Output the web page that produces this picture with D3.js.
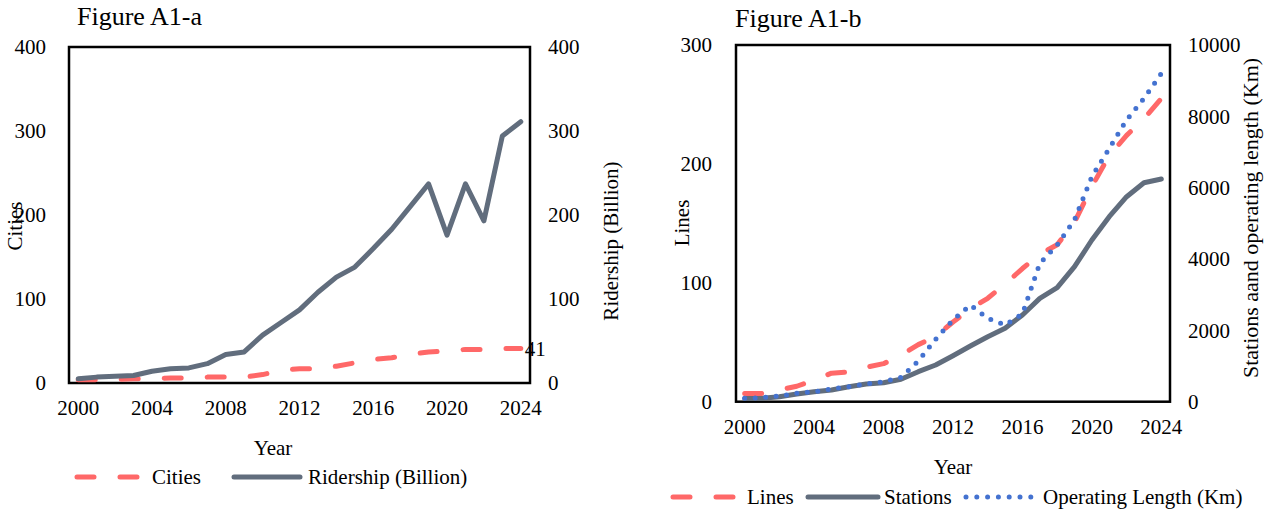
<!DOCTYPE html>
<html>
<head>
<meta charset="utf-8">
<script src="https://cdn.jsdelivr.net/npm/d3@7"></script>
<style>
  body { margin: 0; background: #fff; }
  text { font-family: "Liberation Serif", "Times New Roman", serif; fill: #000; }
</style>
</head>
<body>
<script>
// data
var years = d3.range(2000, 2025);
var yearTicks = [2000, 2004, 2008, 2012, 2016, 2020, 2024];

// Figure A1-a
var cities = [4, 4, 4, 5, 5, 6, 6, 7, 7, 7, 10, 15, 17, 17, 20, 24, 28, 30, 34, 37, 38, 40, 40, 41, 41];
var ridership = [5, 7, 8, 9, 14, 17, 18, 23, 34, 37, 57, 72, 87, 108, 126, 138, 160, 183, 210, 237, 176, 237, 193, 294, 311];
var ticksA = [0, 100, 200, 300, 400];

// Figure A1-b
var lines = [7, 7, 10, 13, 18, 24, 25, 29, 32, 39, 48, 55, 67, 78, 87, 99, 112, 124, 132, 151, 181, 207, 224, 238, 255];
var stations = [90, 95, 140, 216, 280, 328, 420, 496, 533, 628, 841, 1029, 1290, 1561, 1822, 2058, 2431, 2898, 3196, 3785, 4533, 5186, 5747, 6140, 6243];
var opLength = [95, 112, 160, 235, 280, 356, 420, 496, 561, 684, 1140, 1750, 2290, 2710, 2340, 2150, 2460, 3880, 4390, 5100, 6310, 7100, 7900, 8500, 9200];
var ticksBLeft = [0, 100, 200, 300];
var ticksBRight = [0, 2000, 4000, 6000, 8000, 10000];

var red = '#ff6868', gray = '#616d7d', blue = '#4472d0';
var fs = '21px';

var svg = d3.select('body').append('svg')
    .attr('width', 1270)
    .attr('height', 512);

function axisText(g) {
  g.select('.domain').remove();
  g.selectAll('text').style('font-size', fs).style('font-family', '"Liberation Serif", "Times New Roman", serif');
}

function drawLine(x, y, vals, color, dash) {
  var line = d3.line()
      .x(function(d, i) { return x(years[i]) + x.bandwidth() / 2; })
      .y(function(d) { return y(d); });
  svg.append('path')
      .datum(vals)
      .attr('d', line)
      .attr('fill', 'none')
      .attr('stroke', color)
      .attr('stroke-width', 5)
      .attr('stroke-linecap', 'round')
      .attr('stroke-linejoin', 'round')
      .attr('stroke-dasharray', dash);
}

function legendItem(x0, x1, yy, color, dash, label, tx) {
  svg.append('line')
      .attr('x1', x0).attr('x2', x1).attr('y1', yy).attr('y2', yy)
      .attr('stroke', color).attr('stroke-width', 5)
      .attr('stroke-linecap', 'round')
      .attr('stroke-dasharray', dash);
  svg.append('text').attr('x', tx).attr('y', yy + 7).style('font-size', fs).text(label);
}

// ---------- Figure A1-a ----------
var L = 69, R = 530, T = 47, B = 383;
var xa = d3.scaleBand().domain(years).range([L, R]);
var ya = d3.scaleLinear().domain([0, 400]).range([B, T]);
var ya2 = d3.scaleLinear().domain([0, 400]).range([B, T]);

svg.append('g').attr('transform', 'translate(0,' + B + ')')
    .call(d3.axisBottom(xa).tickValues(yearTicks).tickSize(0).tickPadding(17)).call(axisText);
svg.append('g').attr('transform', 'translate(' + L + ',0)')
    .call(d3.axisLeft(ya).tickValues(ticksA).tickSize(0).tickPadding(23)).call(axisText);
svg.append('g').attr('transform', 'translate(' + R + ',0)')
    .call(d3.axisRight(ya2).tickValues(ticksA).tickSize(0).tickPadding(18)).call(axisText);

svg.append('rect').attr('x', L).attr('y', T).attr('width', R - L).attr('height', B - T)
    .attr('fill', 'none').attr('stroke', '#000').attr('stroke-width', 2.5);

drawLine(xa, ya2, cities, red, '17,26');
drawLine(xa, ya, ridership, gray, null);

svg.append('text')
    .attr('x', xa(2024) + xa.bandwidth() / 2 + 4)
    .attr('y', ya2(cities[cities.length - 1]) + 7)
    .style('font-size', fs).text(cities[cities.length - 1]);

svg.append('text').attr('x', 77).attr('y', 25).style('font-size', '26px').text('Figure A1-a');
svg.append('text').attr('transform', 'translate(22,226) rotate(-90)')
    .attr('text-anchor', 'middle').style('font-size', fs).text('Cities');
svg.append('text').attr('transform', 'translate(618,241) rotate(-90)')
    .attr('text-anchor', 'middle').style('font-size', fs).text('Ridership (Billion)');
svg.append('text').attr('x', 273).attr('y', 455).attr('text-anchor', 'middle')
    .style('font-size', fs).text('Year');

legendItem(77, 138, 477, red, '17,26', 'Cities', 152);
legendItem(234, 300, 477, gray, null, 'Ridership (Billion)', 308);

// ---------- Figure A1-b ----------
var L2 = 736, R2 = 1170, T2 = 45, B2 = 401.7;
var xb = d3.scaleBand().domain(years).range([L2, R2]);
var yb = d3.scaleLinear().domain([0, 300]).range([B2, T2]);
var yb2 = d3.scaleLinear().domain([0, 10000]).range([B2, T2]);

svg.append('g').attr('transform', 'translate(0,' + B2 + ')')
    .call(d3.axisBottom(xb).tickValues(yearTicks).tickSize(0).tickPadding(17)).call(axisText);
svg.append('g').attr('transform', 'translate(' + L2 + ',0)')
    .call(d3.axisLeft(yb).tickValues(ticksBLeft).tickSize(0).tickPadding(24)).call(axisText);
svg.append('g').attr('transform', 'translate(' + R2 + ',0)')
    .call(d3.axisRight(yb2).tickValues(ticksBRight).tickFormat(d3.format('d')).tickSize(0).tickPadding(18)).call(axisText);

svg.append('rect').attr('x', L2).attr('y', T2).attr('width', R2 - L2).attr('height', B2 - T2)
    .attr('fill', 'none').attr('stroke', '#000').attr('stroke-width', 2.5);

drawLine(xb, yb2, stations, gray, null);
drawLine(xb, yb, lines, red, '17,26');
drawLine(xb, yb2, opLength, blue, '0,10.5');

svg.append('text').attr('x', 735).attr('y', 27).style('font-size', '26px').text('Figure A1-b');
svg.append('text').attr('transform', 'translate(689,223) rotate(-90)')
    .attr('text-anchor', 'middle').style('font-size', fs).text('Lines');
svg.append('text').attr('transform', 'translate(1258,218) rotate(-90)')
    .attr('text-anchor', 'middle').style('font-size', '22px').text('Stations aand operating length (Km)');
svg.append('text').attr('x', 953).attr('y', 474).attr('text-anchor', 'middle')
    .style('font-size', fs).text('Year');

legendItem(673, 735, 497, red, '17,26', 'Lines', 747);
legendItem(808, 878, 497, gray, null, 'Stations', 884);
legendItem(966, 1031, 497, blue, '0,10.8', 'Operating Length (Km)', 1043);
</script>
</body>
</html>
